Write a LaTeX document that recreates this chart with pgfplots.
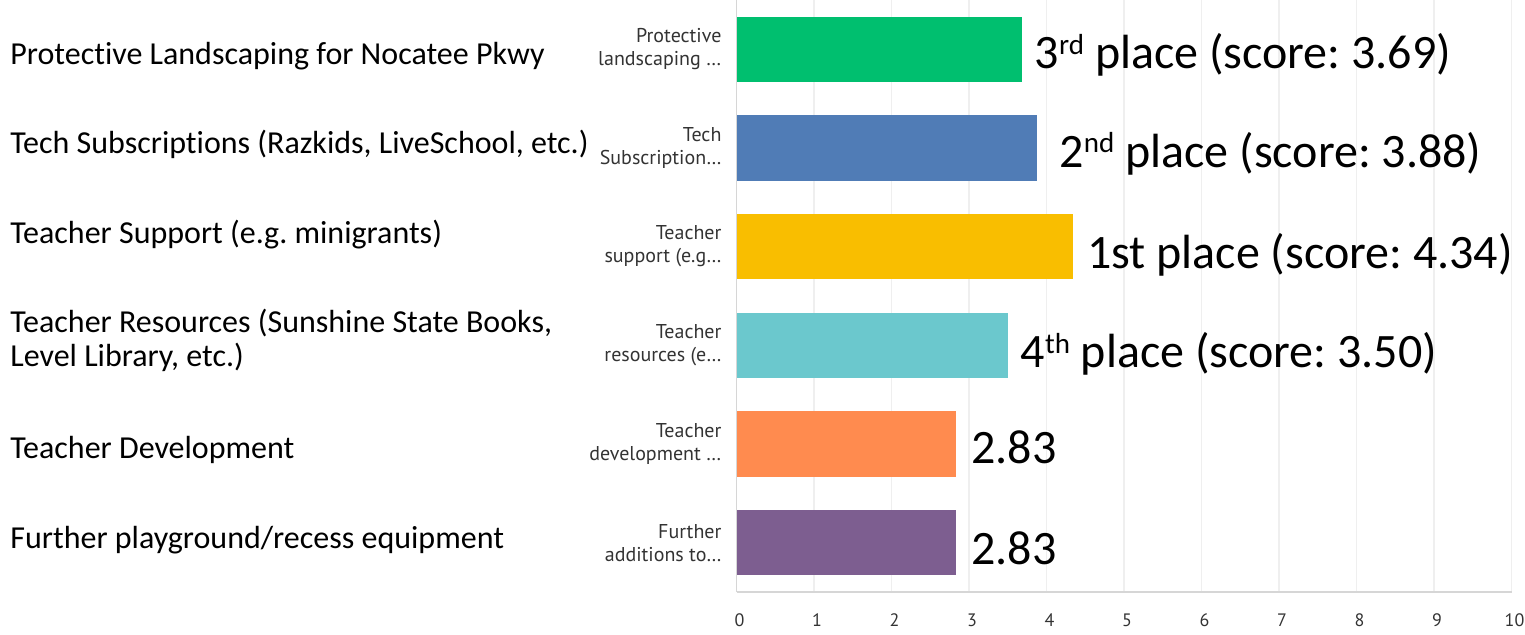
\documentclass[border=0pt]{standalone}
\usepackage{fontspec}
\setmainfont{Carlito}[Ligatures=NoCommon]
\newfontfamily\ptsans{PT Sans}
\usepackage{pgfplots}
\pgfplotsset{compat=1.18}
\frenchspacing
\definecolor{cgreen}{HTML}{00BF6F}
\definecolor{cblue}{HTML}{507CB6}
\definecolor{cyellow}{HTML}{F9BE00}
\definecolor{ccyan}{HTML}{6BC8CD}
\definecolor{corange}{HTML}{FF8B4F}
\definecolor{cpurple}{HTML}{7D5E90}
\definecolor{gridc}{HTML}{EFEFEF}
\definecolor{axc}{HTML}{D6D6D6}
\definecolor{tickc}{HTML}{333333}
\newcommand{\sups}[1]{\raisebox{0.62ex}{\fontsize{14.5}{14.5}\selectfont #1}}
\begin{document}
\begin{tikzpicture}
\begin{axis}[
  at={(368.25pt,21pt)}, anchor=south west,
  scale only axis, width=387.5pt, height=296pt,
  xmin=0, xmax=10, ymin=-0.5, ymax=5.5,
  xtick={0,...,10}, ytick={0,...,5},
  yticklabels={{Further\\additions to…},{Teacher\\development …},{Teacher\\resources (e…},{Teacher\\support (e.g…},{Tech\\Subscription…},{Protective\\landscaping …}},
  axis lines*=left,
  axis line style={axc, line width=0.9pt},
  xmajorgrids, grid style={gridc, line width=0.8pt},
  major tick length=0pt,
  /pgf/number format/assume math mode=true,
  yticklabel style={align=right, font=\ptsans\fontsize{10}{11.5}\selectfont, text=tickc, xshift=-4pt},
  xticklabel style={font=\ptsans\fontsize{9}{10}\selectfont, text=tickc, yshift=-7.5pt, xshift=1.5pt},
  xbar, bar shift=0pt, bar width=0.66,
  clip=false,
]
\addplot[xbar, bar shift=0pt, fill=cgreen, draw=none] coordinates {(3.69,5)};
\addplot[xbar, bar shift=0pt, fill=cblue, draw=none] coordinates {(3.88,4)};
\addplot[xbar, bar shift=0pt, fill=cyellow, draw=none] coordinates {(4.34,3)};
\addplot[xbar, bar shift=0pt, fill=ccyan, draw=none] coordinates {(3.50,2)};
\addplot[xbar, bar shift=0pt, fill=corange, draw=none] coordinates {(2.83,1)};
\addplot[xbar, bar shift=0pt, fill=cpurple, draw=none] coordinates {(2.83,0)};
\node[anchor=base west, inner sep=0pt, font=\fontsize{24}{24}\selectfont, xshift=6pt, yshift=-9.5pt] at (axis cs:3.69,5) {3\sups{rd} place (score: 3.69)};
\node[anchor=base west, inner sep=0pt, font=\fontsize{24}{24}\selectfont, xshift=11pt, yshift=-9.5pt] at (axis cs:3.88,4) {2\sups{nd} place (score: 3.88)};
\node[anchor=base west, inner sep=0pt, font=\fontsize{24}{24}\selectfont, xshift=7pt, yshift=-11pt] at (axis cs:4.34,3) {1st place (score: 4.34)};
\node[anchor=base west, inner sep=0pt, font=\fontsize{24}{24}\selectfont, xshift=6.3pt, yshift=-11pt] at (axis cs:3.50,2) {4\sups{th} place (score: 3.50)};
\node[anchor=base west, inner sep=0pt, font=\fontsize{24}{24}\selectfont, xshift=7.5pt, yshift=-9.5pt] at (axis cs:2.83,1) {2.83};
\node[anchor=base west, inner sep=0pt, font=\fontsize{24}{24}\selectfont, xshift=7.5pt, yshift=-11pt] at (axis cs:2.83,0) {2.83};
\end{axis}
\begin{scope}[every node/.style={anchor=base west, inner sep=0pt, font=\fontsize{16}{17}\selectfont}]
\node at (5pt,285pt) {Protective Landscaping for Nocatee Pkwy};
\node at (5pt,240.5pt) {Tech Subscriptions (Razkids, LiveSchool, etc.)};
\node at (5pt,195.5pt) {Teacher Support (e.g. minigrants)};
\node at (5pt,151pt) {Teacher Resources (Sunshine State Books,};
\node at (5pt,134pt) {Level Library, etc.)};
\node at (5pt,88pt) {Teacher Development};
\node at (5pt,43pt) {Further playground/recess equipment};
\end{scope}
\pgfresetboundingbox
\path (0,0) rectangle (762.5pt,317pt);
\end{tikzpicture}
\end{document}
